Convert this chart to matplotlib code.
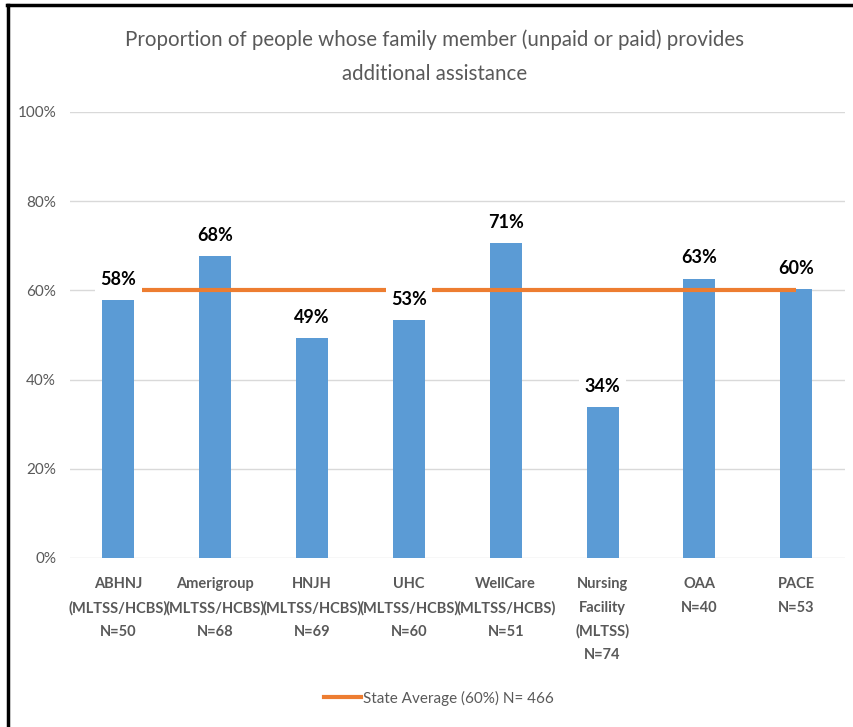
import matplotlib.pyplot as plt
from matplotlib.lines import Line2D

# data
categories = ["ABHNJ\n(MLTSS/HCBS)\nN=50", "Amerigroup\n(MLTSS/HCBS)\nN=68",
              "HNJH\n(MLTSS/HCBS)\nN=69", "UHC\n(MLTSS/HCBS)\nN=60",
              "WellCare\n(MLTSS/HCBS)\nN=51", "Nursing\nFacility\n(MLTSS)\nN=74",
              "OAA\nN=40", "PACE\nN=53"]
values = [57.8, 67.6, 49.3, 53.3, 70.6, 33.8, 62.6, 60.2]
state_avg = 60
legend_label = "State Average (60%) N= 466"
title = "Proportion of people whose family member (unpaid or paid) provides\nadditional assistance"

plt.rcParams["font.family"] = ["Lato", "DejaVu Sans"]
GRAY = "#595959"
BLUE = "#5B9BD5"
ORANGE = "#ED7D31"

fig = plt.figure(figsize=(8.54, 7.27), dpi=100)
ax = fig.add_axes([0.082, 0.2325, 0.907, 0.6135])

x = range(len(categories))
ax.bar(x, values, width=0.33, color=BLUE, zorder=2)
ax.plot([0, len(categories) - 1], [state_avg, state_avg], color=ORANGE,
        linewidth=3, solid_capstyle="butt", zorder=3)

for i, v in enumerate(values):
    ax.annotate(f"{v:.0f}%", (i, v), xytext=(0, 11), textcoords="offset points",
                ha="center", va="baseline", fontsize=13, fontweight="bold",
                color="black", zorder=4,
                bbox=dict(boxstyle="square,pad=0.3", fc="white", ec="none"))

ax.set_xlim(-0.5, len(categories) - 0.5)
ax.set_ylim(0, 100)
ax.set_yticks(range(0, 101, 20))
ax.set_yticklabels([f"{t}%" for t in range(0, 101, 20)], fontsize=11, color=GRAY)
ax.set_xticks(list(x))
ax.set_xticklabels(categories, fontsize=10.5, color=GRAY, fontweight="bold",
                   linespacing=1.85, va="top")
ax.tick_params(axis="both", length=0)
ax.tick_params(axis="y", pad=10)
ax.tick_params(axis="x", pad=14)
ax.grid(axis="y", color="#D9D9D9", linewidth=1, zorder=0)
for s in ax.spines.values():
    s.set_visible(False)

fig.text(0.509, 1 - 57 / 727, title, ha="center", va="center", fontsize=14.8,
         color=GRAY, linespacing=1.85)

handle = Line2D([], [], color=ORANGE, linewidth=3)
fig.legend([handle], [legend_label], loc="center", bbox_to_anchor=(0.514, 1 - 698 / 727),
           frameon=False, fontsize=11, labelcolor=GRAY, handlelength=2.4,
           handletextpad=0.1)

# the outer frame: top and left edges only
fig.add_artist(Line2D([0.008, 1], [1 - 5 / 727, 1 - 5 / 727], color="black",
                      linewidth=2.5, transform=fig.transFigure))
fig.add_artist(Line2D([0.009, 0.009], [0, 1 - 5 / 727], color="black",
                      linewidth=2.5, transform=fig.transFigure))

fig.savefig("out.png", dpi=100)
